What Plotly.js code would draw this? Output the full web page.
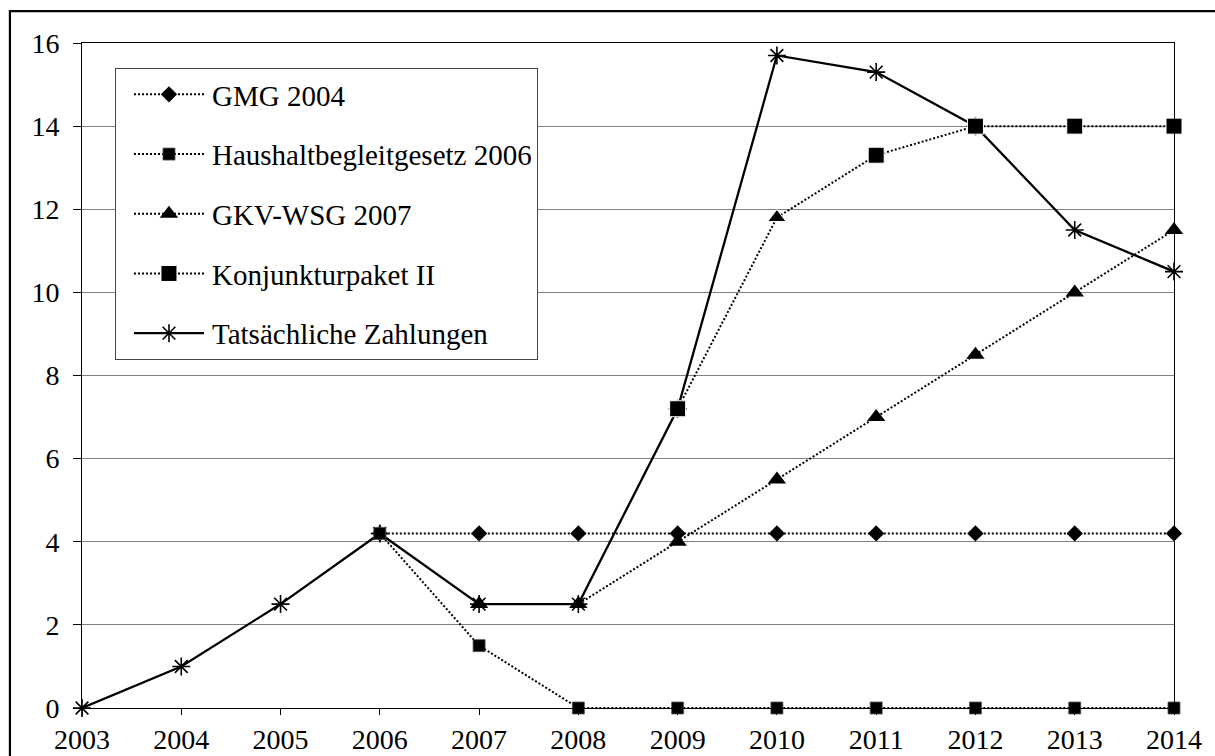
<!DOCTYPE html>
<html>
<head>
<meta charset="utf-8">
<script src="https://cdn.plot.ly/plotly-3.0.1.min.js"></script>
<style>
html,body{margin:0;padding:0;background:#fff;}
#chart{width:1215px;height:756px;}
</style>
</head>
<body>
<div id="chart"></div>
<script>
// ---- data ----
const gmgYears = [2006, 2007, 2008, 2009, 2010, 2011, 2012, 2013, 2014];
const gmgValues = [4.2, 4.2, 4.2, 4.2, 4.2, 4.2, 4.2, 4.2, 4.2];

const hausYears = [2006, 2007, 2008, 2009, 2010, 2011, 2012, 2013, 2014];
const hausValues = [4.2, 1.5, 0, 0, 0, 0, 0, 0, 0];

const gkvYears = [2007, 2008, 2009, 2010, 2011, 2012, 2013, 2014];
const gkvValues = [2.5, 2.5, 4.0, 5.5, 7.0, 8.5, 10.0, 11.5];

const konjYears = [2009, 2010, 2011, 2012, 2013, 2014];
const konjValues = [7.2, 11.8, 13.3, 14, 14, 14];

const tatsYears = [2003, 2004, 2005, 2006, 2007, 2008, 2009, 2010, 2011, 2012, 2013, 2014];
const tatsValues = [0, 1, 2.5, 4.2, 2.5, 2.5, 7.2, 15.7, 15.3, 14, 11.5, 10.5];

const seriesNames = ['GMG 2004', 'Haushaltbegleitgesetz 2006', 'GKV-WSG 2007', 'Konjunkturpaket II', 'Tatsächliche Zahlungen'];

// ---- styles ----
const konjSymbols = ['square', 'triangle-up', 'square', 'square', 'square', 'square'];
const konjSizes = [16, 16, 16, 16, 16, 16];
const dotted = '2px,2px';
const FONT = 'Times New Roman';

const traces = [
  {
    x: tatsYears, y: tatsValues, name: seriesNames[4], legendrank: 5, legendgroup: 'e',
    mode: 'lines+markers', cliponaxis: false,
    line: {color: '#000', width: 2.3},
    marker: {symbol: 'asterisk-open', size: 15, color: '#000', opacity: 1, line: {color: '#000', width: 1.6}}
  },
  {
    x: gmgYears, y: gmgValues, name: seriesNames[0], legendrank: 1, legendgroup: 'a',
    mode: 'lines+markers', cliponaxis: false,
    line: {color: '#000', width: 2, dash: dotted},
    marker: {symbol: 'diamond', size: 12.5, color: '#000', opacity: 1}
  },
  {
    x: hausYears, y: hausValues, name: seriesNames[1], legendrank: 2, legendgroup: 'b',
    mode: 'lines+markers', cliponaxis: false,
    line: {color: '#000', width: 2, dash: dotted},
    marker: {symbol: 'square', size: 12, color: '#000', opacity: 1, line: {color: '#555', width: 0.8}}
  },
  {
    x: gkvYears, y: gkvValues, name: seriesNames[2], legendrank: 3, legendgroup: 'c',
    mode: 'lines+markers', cliponaxis: false,
    line: {color: '#000', width: 2, dash: dotted},
    marker: {symbol: 'triangle-up', size: 16, color: '#000', opacity: 1}
  },
  {
    x: konjYears, y: konjValues, name: seriesNames[3], legendrank: 4, legendgroup: 'd',
    mode: 'lines+markers', cliponaxis: false,
    line: {color: '#000', width: 2, dash: dotted},
    marker: {symbol: konjSymbols, size: konjSizes, sizemode: 'diameter', sizeref: 1, color: '#000', opacity: 1}
  }
];

const layout = {
  width: 1215, height: 756,
  margin: {l: 82, r: 41, t: 43, b: 48, pad: 0},
  paper_bgcolor: '#fff', plot_bgcolor: '#fff',
  font: {family: FONT, size: 28, color: '#000'},
  showlegend: true,
  legend: {
    x: 0.0302, y: 0.9624, xanchor: 'left', yanchor: 'top',
    bgcolor: '#fff', bordercolor: '#444', borderwidth: 1,
    font: {family: FONT, size: 29, color: '#000'},
    traceorder: 'grouped', tracegroupgap: 19,
    itemwidth: 86
  },
  xaxis: {
    range: [2003, 2014], dtick: 1, tick0: 2003,
    showgrid: false, zeroline: false,
    showline: true, linecolor: '#000', linewidth: 1, mirror: true,
    ticks: 'outside', ticklen: 6, tickcolor: '#000', tickwidth: 1,
    tickfont: {family: FONT, size: 28, color: '#000'}
  },
  yaxis: {
    range: [0, 16], dtick: 2, tick0: 0,
    showgrid: true, gridcolor: '#808080', gridwidth: 1, zeroline: false,
    showline: true, linecolor: '#000', linewidth: 1, mirror: true,
    ticks: 'outside', ticklen: 8, tickcolor: '#000', tickwidth: 1,
    ticklabelstandoff: 8,
    tickfont: {family: FONT, size: 28, color: '#000'}
  },
  shapes: [
    {type: 'rect', xref: 'paper', yref: 'paper', x0: -0.066, x1: 1.5, y0: -0.5, y1: 1.048,
     line: {color: '#000', width: 2.2}, fillcolor: 'rgba(0,0,0,0)', layer: 'below'}
  ]
};

Plotly.newPlot('chart', traces, layout, {displayModeBar: false, staticPlot: true}).then(function (gd) {
  // widen the legend sample lines to look like the original legend keys
  gd.querySelectorAll('.legend .legendlines path').forEach(function (p) {
    p.setAttribute('d', 'M18,0h70');
  });
  gd.querySelectorAll('.legend .legendpoints path').forEach(function (p) {
    p.setAttribute('transform', 'translate(53,0)');
  });
});
</script>
</body>
</html>
